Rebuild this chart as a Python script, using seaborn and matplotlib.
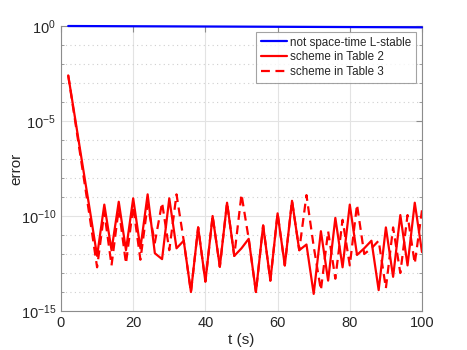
import numpy as np
import pandas as pd
import seaborn as sns
import matplotlib
matplotlib.use("Agg")
import matplotlib.pyplot as plt
from matplotlib.ticker import FixedLocator, NullFormatter

# data (exponents of 10, error = 10**(-e))
t_blue = [2, 20, 40, 60, 80, 100]
err_blue = [1.0, 0.97, 0.94, 0.91, 0.88, 0.85]

t_red = list(range(2, 101, 2))
exp_table2 = [2.6, 4.97, 7.35, 9.7, 12.1, 9.4, 11.8, 9.25, 11.8, 9.07,
              11.7, 8.86, 11.96, 12.27, 9.07, 11.7, 11.3, 14.0, 10.6, 13.45,
              10.0, 12.67, 9.3, 12.1, 11.7, 11.2, 14.0, 10.5, 13.4, 9.86,
              12.6, 9.2, 11.8, 11.5, 14.1, 10.8, 13.4, 10.1, 12.7, 9.4,
              12.05, 11.7, 11.3, 13.9, 10.6, 13.2, 9.95, 12.6, 9.3, 11.9]
exp_table3 = [2.6, 5.1, 7.6, 10.1, 12.7, 9.8, 12.6, 9.6, 12.5, 9.5,
              12.3, 9.4, 11.4, 9.3, 11.8, 8.86, 11.3, 14.0, 10.6, 13.45,
              10.0, 12.67, 9.3, 12.1, 8.86, 11.2, 14.0, 10.5, 13.4, 9.86,
              12.6, 9.2, 11.8, 8.9, 11.6, 13.9, 10.8, 13.3, 10.2, 12.6,
              9.4, 12.0, 11.7, 11.3, 13.8, 10.6, 13.0, 9.95, 12.5, 9.7]

err_table2 = [10.0 ** (-e) for e in exp_table2]
err_table3 = [10.0 ** (-e) for e in exp_table3]

sns.set_style("whitegrid")
plt.rcParams['font.family'] = ['Liberation Sans', 'DejaVu Sans']
plt.rcParams['mathtext.fontset'] = 'custom'
plt.rcParams['mathtext.rm'] = 'Liberation Sans'
plt.rcParams['mathtext.it'] = 'Liberation Sans:italic'

fig = plt.figure(figsize=(4.67, 3.5), dpi=100)
ax = fig.add_axes([0.1306, 0.1114, 0.7730, 0.8143])

df_b = pd.DataFrame({"t": t_blue, "err": err_blue})
df_2 = pd.DataFrame({"t": t_red, "err": err_table2})
df_3 = pd.DataFrame({"t": t_red, "err": err_table3})

sns.lineplot(data=df_b, x="t", y="err", ax=ax, color="#0000ff", lw=1.6,
             label="not space-time L-stable")
sns.lineplot(data=df_2, x="t", y="err", ax=ax, color="#ff0000", lw=1.6,
             label="scheme in Table 2")
sns.lineplot(data=df_3, x="t", y="err", ax=ax, color="#ff0000", lw=1.6,
             label="scheme in Table 3")
ax.lines[2].set_dashes((4, 2.5))
ax.lines[0].set_clip_on(False)
ax.lines[0].set_zorder(5)

ax.set_yscale("log")
ax.set_xlim(0, 100)
ax.set_ylim(1e-15, 1e0)
ax.set_xticks([0, 20, 40, 60, 80, 100])
ax.yaxis.set_major_locator(FixedLocator([1e-15, 1e-10, 1e-5, 1e0]))
ax.yaxis.set_minor_locator(FixedLocator([10.0 ** (-k) for k in range(16) if k % 5]))
ax.yaxis.set_minor_formatter(NullFormatter())

ax.grid(False)
ax.grid(True, which="major", color="#e3e3e3", lw=0.8, ls="-")
ax.grid(True, which="minor", axis="y", color="#cfcfcf", lw=0.8, ls=(0, (1, 3)))

for s in ax.spines.values():
    s.set_visible(True)
    s.set_color("#8c8c8c")
    s.set_linewidth(0.8)

ax.tick_params(which="both", direction="in", top=True, right=True,
               color="#8c8c8c", labelsize=10.5, labelcolor="#262626")
ax.tick_params(which="major", length=4)
ax.tick_params(which="minor", length=2.5, left=True, right=True)
ax.tick_params(axis="x", which="minor", bottom=False, top=False)

ax.set_xlabel("t (s)", fontsize=11, color="#262626", labelpad=2)
ax.set_ylabel("error", fontsize=11, color="#262626")
ax.yaxis.set_label_coords(-0.105, 0.5)

leg = ax.legend(loc="upper right", fontsize=8.4, frameon=True, fancybox=False,
                borderaxespad=0.5, handlelength=2.2, handletextpad=0.3,
                labelspacing=0.25, borderpad=0.4)
leg.get_frame().set_edgecolor("#8c8c8c")
leg.get_frame().set_linewidth(0.8)
for txt in leg.get_texts():
    txt.set_color("#262626")

fig.savefig("out.png", dpi=100)
